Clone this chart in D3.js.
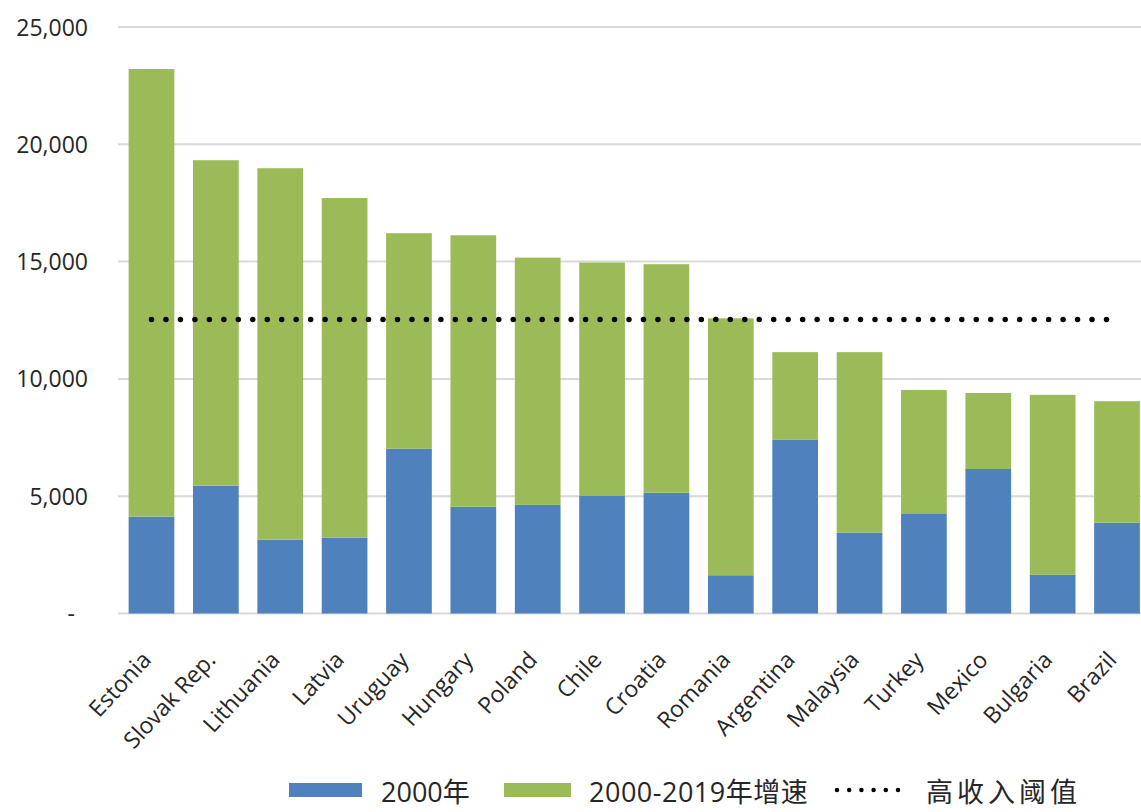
<!DOCTYPE html>
<html>
<head>
<meta charset="utf-8">
<script src="https://cdn.jsdelivr.net/npm/d3@7/dist/d3.min.js"></script>
<style>
  html, body { margin: 0; padding: 0; background: #fff; }
  svg { display: block; }
  text { font-family: "Open Sans", "Noto Sans CJK SC", sans-serif; fill: #262626; }
</style>
</head>
<body>
<svg id="chart" width="1141" height="812"></svg>
<script>
// GDP per capita (USD): level in 2000 and the increase to 2019
const countries = ["Estonia", "Slovak Rep.", "Lithuania", "Latvia", "Uruguay", "Hungary", "Poland", "Chile",
                   "Croatia", "Romania", "Argentina", "Malaysia", "Turkey", "Mexico", "Bulgaria", "Brazil"];
const level2000 = [4130, 5450, 3150, 3230, 7030, 4550, 4630, 5010, 5150, 1630, 7400, 3450, 4270, 6160, 1650, 3870];
const growth2000to2019 = [19080, 13870, 15830, 14480, 9180, 11570, 10540, 9950, 9740, 10950, 3740, 7690, 5260, 3240, 7670, 5180];
const highIncomeThreshold = 12535;

const yTicks = [0, 5000, 10000, 15000, 20000, 25000];
const seriesKeys = ["level2000", "growth"];
const seriesNames = ["2000年", "2000-2019年增速"];
const thresholdName = "高收入阈值";
const colors = { level2000: "#4F81BD", growth: "#9BBB59" };

const rows = countries.map((c, i) => ({ country: c, level2000: level2000[i], growth: growth2000to2019[i] }));

const svg = d3.select("#chart");
const W = 1141;

const x = d3.scaleBand()
  .domain(countries)
  .range([119.3, 1149.2])
  .paddingInner(0.29)
  .paddingOuter(0.145);

const y = d3.scaleLinear().domain([0, 25000]).range([613.5, 27]);

// horizontal gridlines
svg.append("g")
  .selectAll("line")
  .data(yTicks)
  .join("line")
  .attr("x1", 118).attr("x2", W)
  .attr("y1", d => y(d)).attr("y2", d => y(d))
  .attr("stroke", "#D9D9D9")
  .attr("stroke-width", 2);

// y axis labels
const yAxis = d3.axisLeft(y)
  .tickValues(yTicks)
  .tickSize(0)
  .tickPadding(0)
  .tickFormat(d => d === 0 ? "-" : d3.format(",")(d));

svg.append("g")
  .attr("transform", "translate(88,0)")
  .call(yAxis)
  .call(g => g.select(".domain").remove())
  .call(g => g.selectAll("text")
    .attr("font-size", 23)
    .attr("font-family", "'Open Sans', sans-serif")
    .attr("fill", "#333")
    .attr("dy", "0.35em")
    .attr("x", d => d === 0 ? -13 : 0));

// stacked bars
const stacked = d3.stack().keys(seriesKeys)(rows);

svg.append("g")
  .selectAll("g")
  .data(stacked)
  .join("g")
  .attr("fill", d => colors[d.key])
  .selectAll("rect")
  .data(d => d)
  .join("rect")
  .attr("x", d => x(d.data.country))
  .attr("width", x.bandwidth())
  .attr("y", d => y(d[1]))
  .attr("height", d => y(d[0]) - y(d[1]));

// high-income threshold as a dotted line across the categories
const lineGen = d3.line()
  .x(d => x(d) + x.bandwidth() / 2)
  .y(() => y(highIncomeThreshold));

svg.append("path")
  .datum([countries[0], countries[countries.length - 1]])
  .attr("d", lineGen)
  .attr("fill", "none")
  .attr("stroke", "#000")
  .attr("stroke-width", 5.5)
  .attr("stroke-linecap", "round")
  .attr("stroke-dasharray", "0 14.47");

// rotated category labels
svg.append("g")
  .selectAll("text")
  .data(countries)
  .join("text")
  .attr("transform", d => `translate(${x(d) + x.bandwidth() / 2 + 1},661) rotate(-47)`)
  .attr("text-anchor", "end")
  .attr("font-size", 23)
  .text(d => d);

// legend
const legend = svg.append("g").attr("font-size", 27);
const legendY = 802;

legend.append("rect").attr("x", 289).attr("y", 783).attr("width", 73).attr("height", 14).attr("fill", colors.level2000);
legend.append("text").attr("x", 381).attr("y", legendY).text(seriesNames[0]);

legend.append("rect").attr("x", 504).attr("y", 783).attr("width", 67).attr("height", 14).attr("fill", colors.growth);
legend.append("text").attr("x", 589).attr("y", legendY).attr("letter-spacing", 0.5).text(seriesNames[1]);

legend.append("line")
  .attr("x1", 837).attr("x2", 898)
  .attr("y1", 790).attr("y2", 790)
  .attr("stroke", "#000")
  .attr("stroke-width", 4.5)
  .attr("stroke-linecap", "round")
  .attr("stroke-dasharray", "0 12.2");
legend.append("text").attr("x", 926).attr("y", legendY)
  .attr("letter-spacing", 4)
  .text(thresholdName);
</script>
</body>
</html>
